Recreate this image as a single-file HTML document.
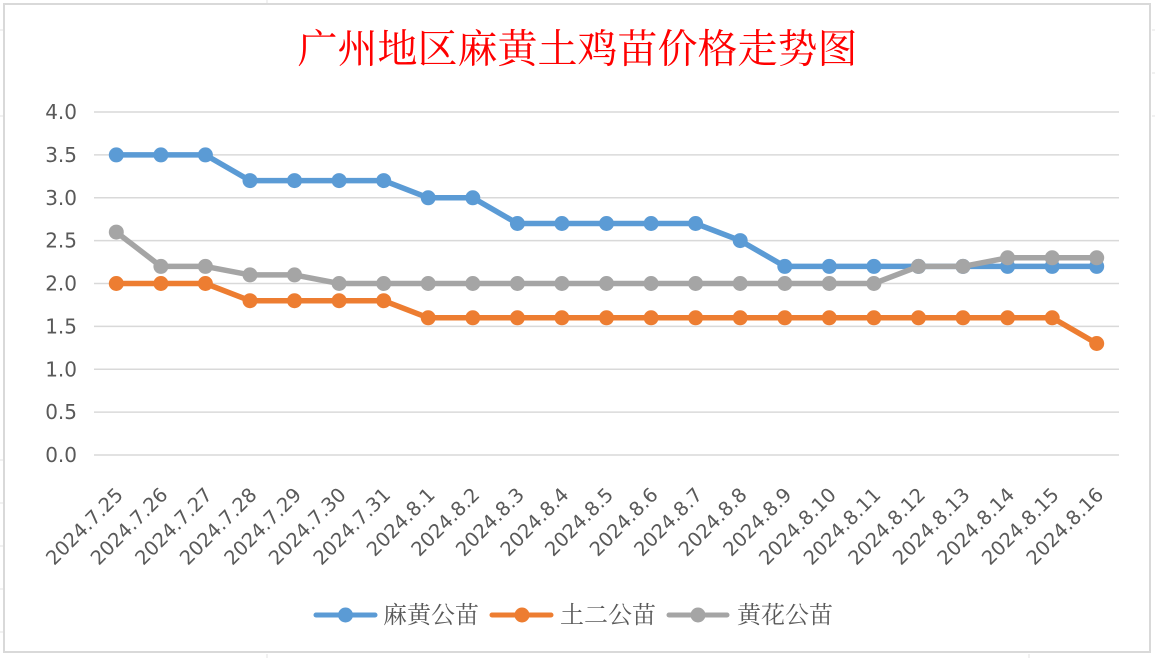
<!DOCTYPE html>
<html>
<head>
<meta charset="utf-8">
<style>
  html, body { margin: 0; padding: 0; background: #ffffff; }
  body { width: 1155px; height: 658px; overflow: hidden; }
  svg { display: block; }
</style>
</head>
<body>
<svg width="1155" height="658" viewBox="0 0 1155 658" xmlns="http://www.w3.org/2000/svg">
  <rect x="0" y="0" width="1155" height="658" fill="#ffffff"/>
  <!-- faint spreadsheet cell lines outside the chart -->
  <g stroke="#e3e3e3" stroke-width="1">
    <line x1="0" y1="30" x2="3" y2="30"/><line x1="0" y1="116" x2="3" y2="116"/>
    <line x1="0" y1="460" x2="3" y2="460"/><line x1="0" y1="503" x2="3" y2="503"/>
    <line x1="0" y1="546" x2="3" y2="546"/><line x1="0" y1="589" x2="3" y2="589"/>
    <line x1="0" y1="632" x2="3" y2="632"/>
    <line x1="1152" y1="30" x2="1155" y2="30"/><line x1="1152" y1="73" x2="1155" y2="73"/>
    <line x1="1152" y1="116" x2="1155" y2="116"/>
    <line x1="267" y1="0" x2="267" y2="3"/><line x1="267" y1="654" x2="267" y2="658"/>
    <line x1="1029" y1="654" x2="1029" y2="658"/>
  </g>
  <!-- chart border -->
  <rect x="4" y="4" width="1146" height="648" fill="#ffffff" stroke="#d9d9d9" stroke-width="2"/>

  <!-- title -->
  <text x="577.5" y="49" text-anchor="middle" dominant-baseline="central" fill="#ff0000"
        font-family="'Liberation Serif','Noto Serif CJK SC',serif" font-size="40">广州地区麻黄土鸡苗价格走势图</text>

  <!-- gridlines -->
  <g stroke="#d9d9d9" stroke-width="1.5">
    <line x1="94" y1="112" x2="1119" y2="112"/>
    <line x1="94" y1="154.9" x2="1119" y2="154.9"/>
    <line x1="94" y1="197.8" x2="1119" y2="197.8"/>
    <line x1="94" y1="240.6" x2="1119" y2="240.6"/>
    <line x1="94" y1="283.5" x2="1119" y2="283.5"/>
    <line x1="94" y1="326.4" x2="1119" y2="326.4"/>
    <line x1="94" y1="369.3" x2="1119" y2="369.3"/>
    <line x1="94" y1="412.1" x2="1119" y2="412.1"/>
    <line x1="94" y1="455" x2="1119" y2="455"/>
  </g>

  <!-- y labels -->
  <g font-family="'DejaVu Sans','Liberation Sans',sans-serif" font-size="20" fill="#595959" text-anchor="end" dominant-baseline="central">
    <text x="77" y="112">4.0</text>
    <text x="77" y="154.9">3.5</text>
    <text x="77" y="197.8">3.0</text>
    <text x="77" y="240.6">2.5</text>
    <text x="77" y="283.5">2.0</text>
    <text x="77" y="326.4">1.5</text>
    <text x="77" y="369.3">1.0</text>
    <text x="77" y="412.1">0.5</text>
    <text x="77" y="455">0.0</text>
  </g>

  <!-- x labels -->
  <g font-family="'DejaVu Sans','Liberation Sans',sans-serif" font-size="19.5" fill="#595959" text-anchor="end">
    <text transform="translate(124.3,496) rotate(-45)">2024.7.25</text>
    <text transform="translate(168.9,496) rotate(-45)">2024.7.26</text>
    <text transform="translate(213.4,496) rotate(-45)">2024.7.27</text>
    <text transform="translate(258.0,496) rotate(-45)">2024.7.28</text>
    <text transform="translate(302.5,496) rotate(-45)">2024.7.29</text>
    <text transform="translate(347.1,496) rotate(-45)">2024.7.30</text>
    <text transform="translate(391.7,496) rotate(-45)">2024.7.31</text>
    <text transform="translate(436.2,496) rotate(-45)">2024.8.1</text>
    <text transform="translate(480.8,496) rotate(-45)">2024.8.2</text>
    <text transform="translate(525.4,496) rotate(-45)">2024.8.3</text>
    <text transform="translate(569.9,496) rotate(-45)">2024.8.4</text>
    <text transform="translate(614.5,496) rotate(-45)">2024.8.5</text>
    <text transform="translate(659.1,496) rotate(-45)">2024.8.6</text>
    <text transform="translate(703.6,496) rotate(-45)">2024.8.7</text>
    <text transform="translate(748.2,496) rotate(-45)">2024.8.8</text>
    <text transform="translate(792.8,496) rotate(-45)">2024.8.9</text>
    <text transform="translate(837.3,496) rotate(-45)">2024.8.10</text>
    <text transform="translate(881.9,496) rotate(-45)">2024.8.11</text>
    <text transform="translate(926.5,496) rotate(-45)">2024.8.12</text>
    <text transform="translate(971.0,496) rotate(-45)">2024.8.13</text>
    <text transform="translate(1015.6,496) rotate(-45)">2024.8.14</text>
    <text transform="translate(1060.2,496) rotate(-45)">2024.8.15</text>
    <text transform="translate(1104.7,496) rotate(-45)">2024.8.16</text>
  </g>

  <!-- series 麻黄公苗 -->
  <g>
    <polyline fill="none" stroke="#5b9bd5" stroke-width="5.5" stroke-linejoin="round" stroke-linecap="round"
      points="116.3,154.9 160.9,154.9 205.4,154.9 250.0,180.6 294.5,180.6 339.1,180.6 383.7,180.6 428.2,197.8 472.8,197.8 517.4,223.5 561.9,223.5 606.5,223.5 651.1,223.5 695.6,223.5 740.2,240.6 784.8,266.4 829.3,266.4 873.9,266.4 918.5,266.4 963.0,266.4 1007.6,266.4 1052.2,266.4 1096.7,266.4"/>
    <g fill="#5b9bd5">
      <circle cx="116.3" cy="154.9" r="7.5"/><circle cx="160.9" cy="154.9" r="7.5"/><circle cx="205.4" cy="154.9" r="7.5"/>
      <circle cx="250.0" cy="180.6" r="7.5"/><circle cx="294.5" cy="180.6" r="7.5"/><circle cx="339.1" cy="180.6" r="7.5"/>
      <circle cx="383.7" cy="180.6" r="7.5"/><circle cx="428.2" cy="197.8" r="7.5"/><circle cx="472.8" cy="197.8" r="7.5"/>
      <circle cx="517.4" cy="223.5" r="7.5"/><circle cx="561.9" cy="223.5" r="7.5"/><circle cx="606.5" cy="223.5" r="7.5"/>
      <circle cx="651.1" cy="223.5" r="7.5"/><circle cx="695.6" cy="223.5" r="7.5"/><circle cx="740.2" cy="240.6" r="7.5"/>
      <circle cx="784.8" cy="266.4" r="7.5"/><circle cx="829.3" cy="266.4" r="7.5"/><circle cx="873.9" cy="266.4" r="7.5"/>
      <circle cx="918.5" cy="266.4" r="7.5"/><circle cx="963.0" cy="266.4" r="7.5"/><circle cx="1007.6" cy="266.4" r="7.5"/>
      <circle cx="1052.2" cy="266.4" r="7.5"/><circle cx="1096.7" cy="266.4" r="7.5"/>
    </g>
  </g>

  <!-- series 土二公苗 -->
  <g>
    <polyline fill="none" stroke="#ed7d31" stroke-width="5.5" stroke-linejoin="round" stroke-linecap="round"
      points="116.3,283.5 160.9,283.5 205.4,283.5 250.0,300.7 294.5,300.7 339.1,300.7 383.7,300.7 428.2,317.8 472.8,317.8 517.4,317.8 561.9,317.8 606.5,317.8 651.1,317.8 695.6,317.8 740.2,317.8 784.8,317.8 829.3,317.8 873.9,317.8 918.5,317.8 963.0,317.8 1007.6,317.8 1052.2,317.8 1096.7,343.5"/>
    <g fill="#ed7d31">
      <circle cx="116.3" cy="283.5" r="7.5"/><circle cx="160.9" cy="283.5" r="7.5"/><circle cx="205.4" cy="283.5" r="7.5"/>
      <circle cx="250.0" cy="300.7" r="7.5"/><circle cx="294.5" cy="300.7" r="7.5"/><circle cx="339.1" cy="300.7" r="7.5"/>
      <circle cx="383.7" cy="300.7" r="7.5"/><circle cx="428.2" cy="317.8" r="7.5"/><circle cx="472.8" cy="317.8" r="7.5"/>
      <circle cx="517.4" cy="317.8" r="7.5"/><circle cx="561.9" cy="317.8" r="7.5"/><circle cx="606.5" cy="317.8" r="7.5"/>
      <circle cx="651.1" cy="317.8" r="7.5"/><circle cx="695.6" cy="317.8" r="7.5"/><circle cx="740.2" cy="317.8" r="7.5"/>
      <circle cx="784.8" cy="317.8" r="7.5"/><circle cx="829.3" cy="317.8" r="7.5"/><circle cx="873.9" cy="317.8" r="7.5"/>
      <circle cx="918.5" cy="317.8" r="7.5"/><circle cx="963.0" cy="317.8" r="7.5"/><circle cx="1007.6" cy="317.8" r="7.5"/>
      <circle cx="1052.2" cy="317.8" r="7.5"/><circle cx="1096.7" cy="343.5" r="7.5"/>
    </g>
  </g>

  <!-- series 黄花公苗 -->
  <g>
    <polyline fill="none" stroke="#a5a5a5" stroke-width="5.5" stroke-linejoin="round" stroke-linecap="round"
      points="116.3,232.1 160.9,266.4 205.4,266.4 250.0,274.9 294.5,274.9 339.1,283.5 383.7,283.5 428.2,283.5 472.8,283.5 517.4,283.5 561.9,283.5 606.5,283.5 651.1,283.5 695.6,283.5 740.2,283.5 784.8,283.5 829.3,283.5 873.9,283.5 918.5,266.4 963.0,266.4 1007.6,257.8 1052.2,257.8 1096.7,257.8"/>
    <g fill="#a5a5a5">
      <circle cx="116.3" cy="232.1" r="7.5"/><circle cx="160.9" cy="266.4" r="7.5"/><circle cx="205.4" cy="266.4" r="7.5"/>
      <circle cx="250.0" cy="274.9" r="7.5"/><circle cx="294.5" cy="274.9" r="7.5"/><circle cx="339.1" cy="283.5" r="7.5"/>
      <circle cx="383.7" cy="283.5" r="7.5"/><circle cx="428.2" cy="283.5" r="7.5"/><circle cx="472.8" cy="283.5" r="7.5"/>
      <circle cx="517.4" cy="283.5" r="7.5"/><circle cx="561.9" cy="283.5" r="7.5"/><circle cx="606.5" cy="283.5" r="7.5"/>
      <circle cx="651.1" cy="283.5" r="7.5"/><circle cx="695.6" cy="283.5" r="7.5"/><circle cx="740.2" cy="283.5" r="7.5"/>
      <circle cx="784.8" cy="283.5" r="7.5"/><circle cx="829.3" cy="283.5" r="7.5"/><circle cx="873.9" cy="283.5" r="7.5"/>
      <circle cx="918.5" cy="266.4" r="7.5"/><circle cx="963.0" cy="266.4" r="7.5"/><circle cx="1007.6" cy="257.8" r="7.5"/>
      <circle cx="1052.2" cy="257.8" r="7.5"/><circle cx="1096.7" cy="257.8" r="7.5"/>
    </g>
  </g>

  <!-- legend -->
  <g stroke-width="5" stroke-linecap="round">
    <line x1="316" y1="615" x2="375" y2="615" stroke="#5b9bd5"/>
    <line x1="492" y1="615" x2="551" y2="615" stroke="#ed7d31"/>
    <line x1="669" y1="615" x2="727" y2="615" stroke="#a5a5a5"/>
  </g>
  <circle cx="345.5" cy="615" r="7.5" fill="#5b9bd5"/>
  <circle cx="522" cy="615" r="7.5" fill="#ed7d31"/>
  <circle cx="698" cy="615" r="7.5" fill="#a5a5a5"/>
  <g font-family="'Liberation Serif','Noto Serif CJK SC',serif" font-size="24" fill="#595959" dominant-baseline="central">
    <text x="383" y="616">麻黄公苗</text>
    <text x="560" y="616">土二公苗</text>
    <text x="737" y="616">黄花公苗</text>
  </g>
</svg>
</body>
</html>
